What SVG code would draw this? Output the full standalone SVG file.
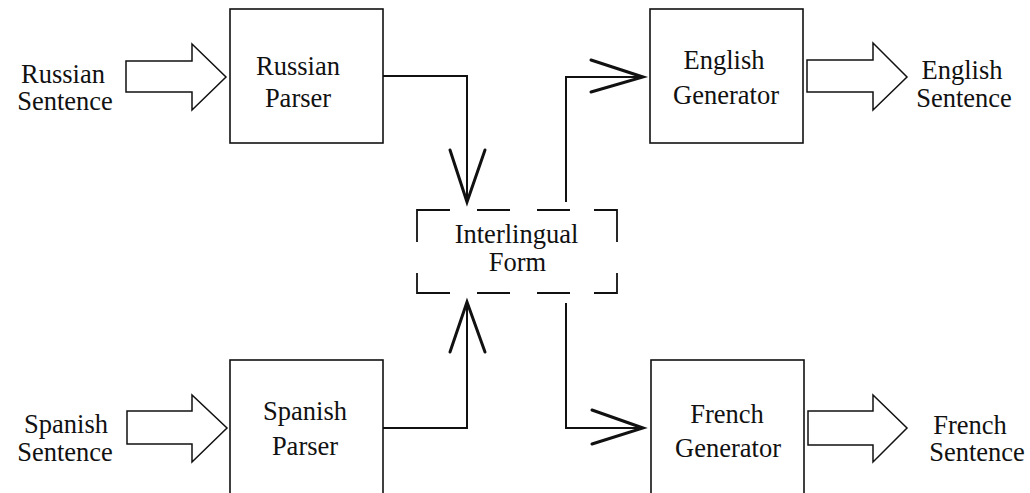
<svg xmlns="http://www.w3.org/2000/svg" width="1030" height="493" viewBox="0 0 1030 493">
<style>
.bg{fill:#fff}
.box{fill:none;stroke:#111;stroke-width:1.6}
.dash{fill:none;stroke:#111;stroke-width:1.8}
.hollow{fill:#fff;stroke:#111;stroke-width:1.5;stroke-linejoin:miter}
.conn{fill:none;stroke:#111;stroke-width:2}
.head{fill:none;stroke:#111;stroke-width:3;stroke-linecap:round;stroke-linejoin:miter}
</style>
<rect class="bg" x="0" y="0" width="1030" height="493"/>
<g font-family="Liberation Serif" font-size="26.5" fill="#111" text-anchor="middle">
<g id="russian-sentence">
  <text x="63" y="83">Russian</text>
  <text x="65" y="110">Sentence</text>
  <polygon class="hollow" points="126,61 192,61 192,44 226,77 192,110 192,92 126,92"/>
</g>

<g id="russian-parser">
  <rect class="box" x="230" y="9" width="153" height="134"/>
  <text x="298" y="75">Russian</text>
  <text x="298" y="107">Parser</text>
</g>

<g id="spanish-sentence">
  <text x="66" y="433">Spanish</text>
  <text x="65" y="461">Sentence</text>
  <polygon class="hollow" points="127,411 192,411 192,395 227,428 192,462 192,444 127,444"/>
</g>

<g id="spanish-parser">
  <rect class="box" x="230" y="360" width="153" height="140"/>
  <text x="305" y="420">Spanish</text>
  <text x="305" y="455">Parser</text>
</g>

<g id="interlingual-form">
  <path class="dash" d="M417,242 V210 H450 M477,210 H510 M537,210 H570 M594,210 H617 V242 M417,273 V293 H450 M477,293 H510 M537,293 H570 M594,293 H617 V273"/>
  <text x="516.5" y="243">Interlingual</text>
  <text x="517.5" y="271">Form</text>
</g>

<g id="english-generator">
  <rect class="box" x="650" y="9" width="153" height="134"/>
  <text x="724" y="69">English</text>
  <text x="726" y="104">Generator</text>
</g>

<g id="english-sentence">
  <polygon class="hollow" points="807,60 873,60 873,43 907,77 873,110 873,92 807,92"/>
  <text x="962" y="79">English</text>
  <text x="964" y="107">Sentence</text>
</g>

<g id="french-generator">
  <rect class="box" x="651" y="360" width="153" height="140"/>
  <text x="727" y="423">French</text>
  <text x="728" y="457">Generator</text>
</g>

<g id="french-sentence">
  <polygon class="hollow" points="808,411 873,411 873,395 907,428 873,462 873,445 808,445"/>
  <text x="970" y="434">French</text>
  <text x="977" y="461">Sentence</text>
</g>
</g>
<g id="connectors">
  <path class="conn" d="M383,76 H467 V201"/>
  <path class="head" d="M450,150 L467,202 L485,150"/>
  <path class="conn" d="M383,428 H467 V303"/>
  <path class="head" d="M450,352 L467,302 L485,352"/>
  <path class="conn" d="M566,202 V77 H642"/>
  <path class="head" d="M591,60 L643,77 L591,92"/>
  <path class="conn" d="M566,303 V428 H642"/>
  <path class="head" d="M592,410 L643,428 L592,444"/>
</g>
</svg>
